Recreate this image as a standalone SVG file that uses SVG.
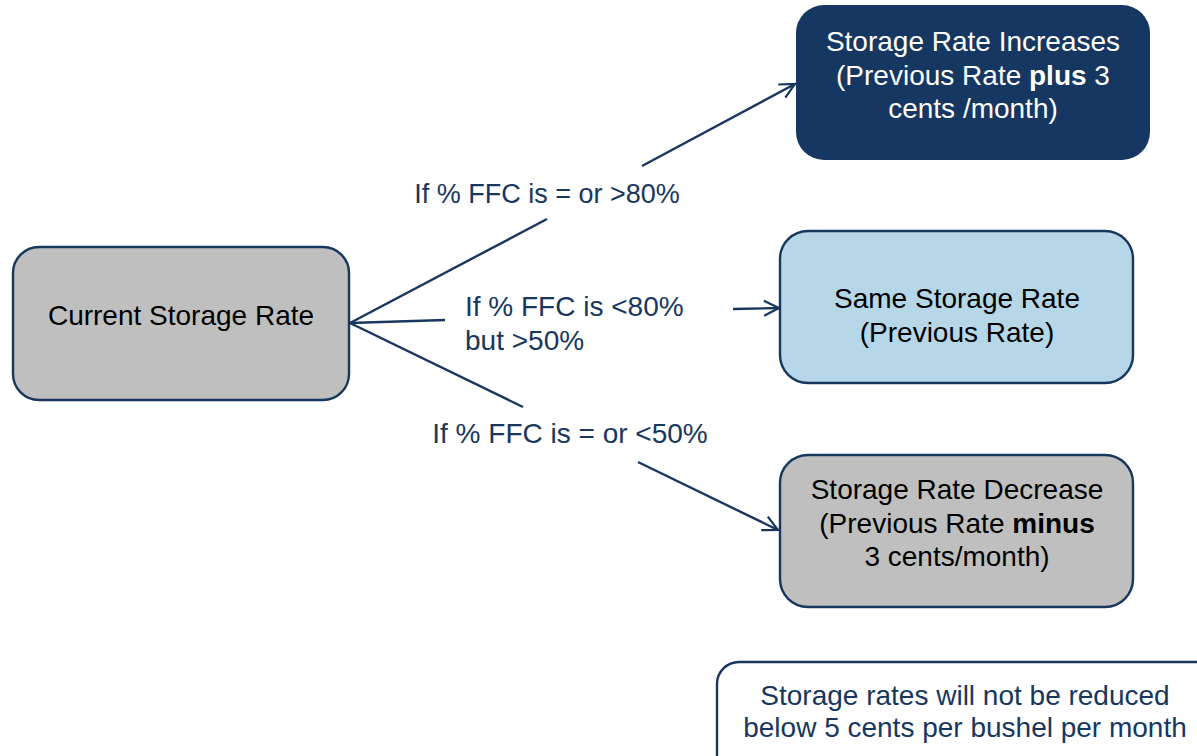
<svg xmlns="http://www.w3.org/2000/svg" width="1197" height="756" viewBox="0 0 1197 756">
<style>
text{font-family:"Liberation Sans",Arial,sans-serif;font-size:28px;text-anchor:middle}
.lbl{fill:#17375e}
.dk{fill:#000}
.wh{fill:#fff}
.b{font-weight:bold}
.conn{stroke:#17375e;stroke-width:2.4;fill:none}
</style>
<defs>
<marker id="arr" markerUnits="userSpaceOnUse" markerWidth="22" markerHeight="22" viewBox="-18 -11 22 22" refX="0" refY="0" orient="auto">
<path d="M-15,-7.5 L0,0 L-15,7.5" fill="none" stroke="#17375e" stroke-width="2.2"/>
</marker>
</defs>
<rect width="1197" height="756" fill="#fff"/>
<g id="connectors">
<line class="conn" x1="350" y1="323" x2="547" y2="219"/>
<line class="conn" x1="642" y1="166" x2="795" y2="84" marker-end="url(#arr)"/>
<line class="conn" x1="350" y1="323" x2="445" y2="320"/>
<line class="conn" x1="733" y1="309" x2="779" y2="308" marker-end="url(#arr)"/>
<line class="conn" x1="350" y1="323" x2="523" y2="407"/>
<line class="conn" x1="638" y1="462" x2="778" y2="530" marker-end="url(#arr)"/>
<text class="lbl" x="547" y="203" style="font-size:27px">If % FFC is = or &gt;80%</text>
<text class="lbl" x="465" y="316" style="text-anchor:start">If % FFC is &lt;80%</text>
<text class="lbl" x="465" y="350" style="text-anchor:start">but &gt;50%</text>
<text class="lbl" x="570" y="443">If % FFC is = or &lt;50%</text>
</g>
<g id="current">
<rect x="13" y="247" width="336" height="153" rx="26" fill="#bfbfbf" stroke="#17375e" stroke-width="2.4"/>
<text class="dk" x="181" y="325">Current Storage Rate</text>
</g>
<g id="increase">
<rect x="796" y="5" width="354" height="155" rx="28" fill="#153761"/>
<text class="wh" x="973" y="51">Storage Rate Increases</text>
<text class="wh" x="973" y="85">(Previous Rate <tspan class="b">plus</tspan> 3</text>
<text class="wh" x="973" y="118">cents /month)</text>
</g>
<g id="same">
<rect x="780" y="231" width="353" height="152" rx="28" fill="#b5d7e8" stroke="#17375e" stroke-width="2.4"/>
<text class="dk" x="957" y="308">Same Storage Rate</text>
<text class="dk" x="957" y="342">(Previous Rate)</text>
</g>
<g id="decrease">
<rect x="780" y="455" width="353" height="152" rx="28" fill="#bfbfbf" stroke="#17375e" stroke-width="2.4"/>
<text class="dk" x="957" y="499">Storage Rate Decrease</text>
<text class="dk" x="957" y="533">(Previous Rate <tspan class="b">minus</tspan></text>
<text class="dk" x="957" y="566">3 cents/month)</text>
</g>
<g id="note">
<rect x="717" y="662" width="510" height="130" rx="22" fill="#fff" stroke="#17375e" stroke-width="2.4"/>
<text class="lbl" x="965" y="705">Storage rates will not be reduced</text>
<text class="lbl" x="965" y="737">below 5 cents per bushel per month</text>
</g>
</svg>
